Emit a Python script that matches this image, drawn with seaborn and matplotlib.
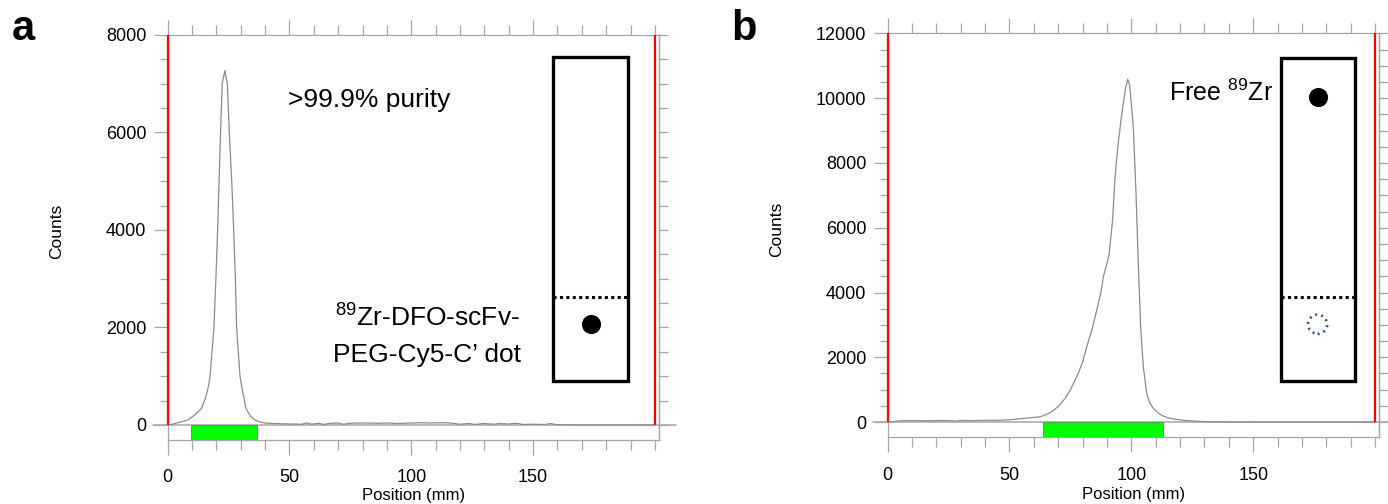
import numpy as np
import pandas as pd
import matplotlib
matplotlib.use("Agg")
import matplotlib.pyplot as plt
from matplotlib.ticker import MultipleLocator
from matplotlib.patches import Rectangle
import seaborn as sns

# ---------------- data ----------------
pos_a = [0, 2, 3.7, 6, 8.3, 11, 13.9, 15.5, 16.7, 17.4, 19.0, 19.8, 20.5, 21.1, 21.7, 22.4,
         23.5, 24.5, 25.3, 26.3, 27.1, 27.8, 28.3, 29.7, 30.4, 32.1, 34, 35.8, 38, 40, 43, 47,
         51, 55, 57, 59, 62, 64, 66, 70, 72, 75, 78, 82, 86, 90, 95, 100, 105, 108, 112, 116,
         120, 124, 126, 130, 134, 136, 140, 143, 146, 150, 155, 157, 160, 170, 180, 190, 200]
counts_a = [0, 15, 40, 70, 103, 200, 342, 550, 786, 1000, 2000, 3000, 4000, 5000, 6000, 7000,
            7270, 7000, 6000, 5000, 4000, 3000, 2000, 1000, 786, 342, 180, 103, 60, 40, 30, 25,
            20, 15, 40, 15, 35, 10, 30, 40, 15, 35, 40, 40, 35, 40, 30, 40, 45, 40, 45, 40,
            15, 30, 10, 30, 15, 30, 20, 35, 10, 15, 10, 30, 5, 0, 0, 0, 0]

pos_b = [0, 3, 5, 10, 15, 20, 25, 28, 30, 35, 40, 45, 50, 54, 58, 62.5, 65, 67.3, 70, 72.8,
         75, 78.2, 80, 81.7, 84, 85.8, 87.5, 88.5, 90, 90.9, 92.3, 93.3, 94.6, 95.7, 96.7, 97.6,
         98.5, 99.3, 100, 100.8, 101.9, 102.8, 103.8, 104.9, 106.3, 107.5, 109, 111, 113.1,
         115.5, 118.6, 122, 126, 131, 140, 150, 160, 170, 180, 190, 200]
counts_b = [0, 20, 40, 45, 40, 50, 45, 30, 50, 45, 55, 55, 70, 100, 130, 164, 230, 318, 480, 731,
            1000, 1503, 1850, 2325, 2900, 3457, 4000, 4485, 4900, 5206, 6235, 7571, 8602, 9300,
            9836, 10300, 10577, 10400, 9800, 9114, 7058, 5000, 2941, 1707, 886, 600, 423, 280,
            185, 120, 83, 50, 30, 10, 5, 0, 0, 0, 0, 0, 0]

roi_a = [9.4, 36.8]          # green integration region, panel a (mm)
roi_b = [63.9, 112.8]        # green integration region, panel b (mm)
origin_front = [0, 200]      # red origin / solvent-front markers (mm)

xticks = [0, 50, 100, 150]
yticks_a = [0, 2000, 4000, 6000, 8000]
yticks_b = [0, 2000, 4000, 6000, 8000, 10000, 12000]
ylim_a = (-300, 8000)
ylim_b = (-470, 12000)
xmax = 201.7

# ---------------- style ----------------
sns.set_style("ticks")
plt.rcParams['font.family'] = ['Liberation Sans', 'DejaVu Sans']
plt.rcParams['mathtext.fontset'] = 'custom'
plt.rcParams['mathtext.rm'] = 'Liberation Sans'
plt.rcParams['mathtext.it'] = 'Liberation Sans:italic'
plt.rcParams['mathtext.bf'] = 'Liberation Sans:bold'
plt.rcParams['text.color'] = 'black'
plt.rcParams['axes.labelcolor'] = 'black'
plt.rcParams['xtick.labelcolor'] = 'black'
plt.rcParams['ytick.labelcolor'] = 'black'

GRAY = '#a6a6a6'
LINE = '#8c8c8c'

fig = plt.figure(figsize=(13.88, 5.04), dpi=100)
ax_a = fig.add_axes([0.1208, 0.1278, 0.3540, 0.8028])
ax_b = fig.add_axes([0.6395, 0.1323, 0.3542, 0.8016])


def setup(ax, pos, counts, roi, ylim, yticks, xlab_y):
    df = pd.DataFrame({'Position': pos, 'Counts': counts})
    sns.lineplot(data=df, x='Position', y='Counts', ax=ax, color=LINE, lw=0.9, zorder=3)
    ax.set_xlim(0, xmax)
    ax.set_ylim(*ylim)
    ax.set_xticks(xticks)
    ax.set_yticks(yticks)
    ax.xaxis.set_minor_locator(MultipleLocator(10))
    ax.yaxis.set_minor_locator(MultipleLocator(500))
    for s in ax.spines.values():
        s.set_visible(True)
        s.set_color(GRAY)
        s.set_linewidth(0.9)
    ax.tick_params(axis='x', which='major', length=10.8, width=0.9, color=GRAY,
                   top=True, bottom=True, direction='out', labelsize=13, pad=10.5,
                   labelcolor='black')
    ax.tick_params(axis='x', which='minor', length=7.5, width=0.9, color=GRAY,
                   top=True, bottom=True, direction='out')
    ax.tick_params(axis='y', which='major', length=10.4, width=0.9, color=GRAY,
                   left=True, right=False, direction='out', labelsize=13, pad=5,
                   labelcolor='black')
    ax.tick_params(axis='y', which='minor', length=5.8, width=0.9, color=GRAY,
                   left=True, right=False, direction='out')
    # right-side ticks (uniform length)
    tw = ax.twinx()
    tw.set_ylim(*ylim)
    tw.yaxis.set_major_locator(MultipleLocator(500))
    tw.tick_params(axis='y', length=6.5, width=0.9, color=GRAY, labelright=False,
                   direction='out')
    for k, s in tw.spines.items():
        s.set_visible(k == 'right')
        s.set_color(GRAY)
        s.set_linewidth(0.9)
    # zero line
    ax.axhline(0, xmin=-0.03, xmax=1.035, color=GRAY, lw=1.1, clip_on=False, zorder=2)
    # red origin / front lines
    ax.vlines(origin_front, 0, ylim[1], colors='#ff0000', lw=1.6, clip_on=False, zorder=5)
    # green region
    ax.bar(roi[0], -ylim[0], width=roi[1] - roi[0], bottom=ylim[0], align='edge',
           color='#00ff00', edgecolor='#4f9a4f', lw=0.6, zorder=4)
    ax.set_xlabel('Position (mm)', fontsize=12, color='black')
    ax.set_ylabel('Counts', fontsize=12.5, color='black')
    ax.xaxis.label.set_va('center')
    ax.yaxis.label.set_va('center')
    ax.xaxis.set_label_coords(0.5, xlab_y)
    ax.yaxis.set_label_coords(-0.226, 0.515)
    return tw


setup(ax_a, pos_a, counts_a, roi_a, ylim_a, yticks_a, -0.138)
setup(ax_b, pos_b, counts_b, roi_b, ylim_b, yticks_b, -0.141)

# ---------------- TLC strip illustrations ----------------
def strip(ax, x0, x1, y0, y1, yd):
    ax.add_patch(Rectangle((x0, y0), x1 - x0, y1 - y0, fill=False, ec='black', lw=2.4,
                           joinstyle='miter', zorder=6))
    ax.plot([x0, x1], [yd, yd], color='black', lw=2.2, linestyle=(0, (1, 1.1)),
            dash_capstyle='butt', zorder=6)

strip(ax_a, 158.3, 189.0, 911, 7541, 2632)
ax_a.scatter([173.7], [2066], s=190, color='black', zorder=7, linewidths=0)
strip(ax_b, 161.4, 191.8, 1281, 11225, 3870)
ax_b.scatter([176.4], [10043], s=190, color='black', zorder=7, linewidths=0)
ax_b.scatter([176.4], [3019], s=190, facecolors='none', edgecolors='#2f5597',
             linewidths=2.0, linestyles=[(0, (0.7, 1.5))], zorder=7)

# ---------------- annotations ----------------
ax_a.text(49.4, 6523, '>99.9% purity', fontsize=19, ha='left', va='baseline', color='black')
ax_a.text(106.6, 2016, r'$\mathregular{^{89}}$Zr-DFO-scFv-', fontsize=19, ha='center',
          va='baseline', color='black')
ax_a.text(106.6, 1298, 'PEG-Cy5-C\u2019 dot', fontsize=19, ha='center', va='baseline',
          color='black')
ax_b.text(115.6, 9910, r'Free $\mathregular{^{89}}$Zr', fontsize=18, ha='left', va='baseline',
          color='black')

fig.text(12 / 1388, 1 - 40 / 504, 'a', fontsize=30, fontweight='bold', ha='left',
         va='baseline', color='black')
fig.text(731 / 1388, 1 - 40 / 504, 'b', fontsize=30, fontweight='bold', ha='left',
         va='baseline', color='black')

fig.savefig('out.png', dpi=100)
